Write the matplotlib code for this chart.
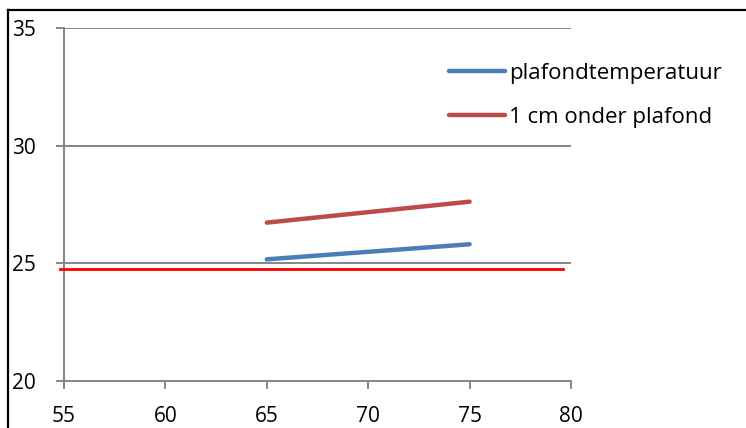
import matplotlib.pyplot as plt
from matplotlib.lines import Line2D

plt.rcParams['font.family'] = ['Open Sans', 'DejaVu Sans']

# data
x_meas = [65, 75]
plafond = [25.17, 25.81]
onder_plafond = [26.73, 27.62]
ref_x = [54.8, 79.6]
ref_y = [24.75, 24.75]

x_ticks = [55, 60, 65, 70, 75, 80]
y_ticks = [20, 25, 30, 35]

grey = '#868686'

fig = plt.figure(figsize=(7.46, 4.28), dpi=100)
ax = fig.add_axes([64 / 746, 47 / 428, 507 / 746, 353 / 428])

ax.plot(x_meas, plafond, color='#4A7EBB', lw=3.2, solid_capstyle='round',
        label='plafondtemperatuur', zorder=3)
ax.plot(x_meas, onder_plafond, color='#BE4B48', lw=3.2, solid_capstyle='round',
        label='1 cm onder plafond', zorder=3)
ax.plot(ref_x, ref_y, color='#FF0000', lw=2, clip_on=False, zorder=3)

ax.set_xlim(55, 80)
ax.set_ylim(20, 35)
ax.set_xticks(x_ticks)
ax.set_yticks(y_ticks)

for y in y_ticks[1:]:
    ax.axhline(y, color=grey, lw=1.4, zorder=1)

for s in ['top', 'right']:
    ax.spines[s].set_visible(False)
for s in ['left', 'bottom']:
    ax.spines[s].set_color(grey)
    ax.spines[s].set_linewidth(1.4)

ax.tick_params(axis='y', direction='out', length=6, width=1.4, color=grey,
               labelsize=15, pad=14)
ax.tick_params(axis='x', direction='out', length=6, width=1.4, color=grey,
               labelsize=15, pad=12)

leg = ax.legend(loc='upper left', bbox_to_anchor=(449 / 746, 1 - 63 / 428),
                bbox_transform=fig.transFigure, frameon=False, fontsize=16,
                handlelength=2.5, handletextpad=0.2, labelspacing=1.03,
                borderaxespad=0, borderpad=0)

# outer frame (only top and left edges visible)
fig.add_artist(Line2D([8 / 746, 8 / 746], [0, 1 - 9.5 / 428], color='black', lw=1.6,
                      transform=fig.transFigure))
fig.add_artist(Line2D([8 / 746, 1], [1 - 9.5 / 428, 1 - 9.5 / 428], color='black', lw=1.6,
                      transform=fig.transFigure))

fig.savefig('out.png', dpi=100)
